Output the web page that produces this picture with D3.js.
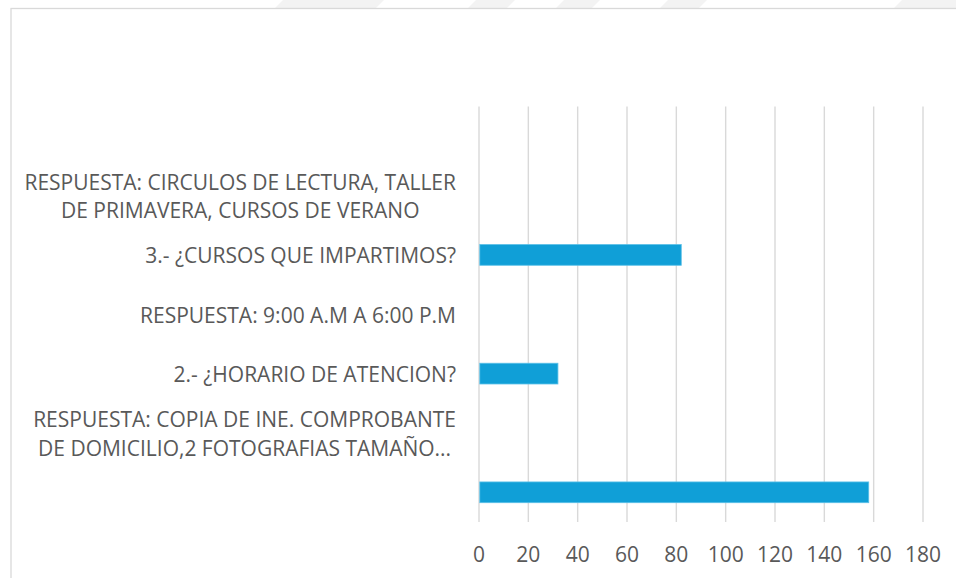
<!DOCTYPE html>
<html>
<head>
<meta charset="utf-8">
<script src="https://cdn.jsdelivr.net/npm/d3@7"></script>
<style>
  html, body { margin: 0; padding: 0; background: #fff; }
  svg { display: block; }
  text { font-family: "Open Sans", sans-serif; fill: #595959; }
</style>
</head>
<body>
<svg id="chart"></svg>
<script>
// categories top to bottom, "\n" marks a wrapped line
const categories = [
  "",
  "RESPUESTA: CIRCULOS DE LECTURA, TALLER\nDE PRIMAVERA, CURSOS DE VERANO",
  "3.- ¿CURSOS QUE IMPARTIMOS?",
  "RESPUESTA: 9:00 A.M A 6:00 P.M",
  "2.- ¿HORARIO DE ATENCION?",
  "RESPUESTA: COPIA DE INE. COMPROBANTE\nDE DOMICILIO,2 FOTOGRAFIAS TAMAÑO...",
  ""
];
const values = [0, 0, 82, 0, 32, 0, 158];
const xTicks = [0, 20, 40, 60, 80, 100, 120, 140, 160, 180];

const width = 956, height = 578;
const plotLeft = 479, plotRight = 923, plotTop = 106.5, plotBottom = 522;

const svg = d3.select("#chart")
  .attr("width", width)
  .attr("height", height);

// faint watermark stripes above the frame
const stripes = [[277, 378], [470, 509], [558, 594], [662, 701], [896, 990]];
svg.selectAll(".stripe")
  .data(stripes)
  .enter()
  .append("path")
  .attr("d", d => `M${d[0] + 6},0 L${d[1] + 6},0 L${d[1] - 2},8 L${d[0] - 2},8 Z`)
  .attr("fill", "#f3f3f3");

// chart frame
svg.append("rect")
  .attr("x", 11)
  .attr("y", 8.5)
  .attr("width", 960)
  .attr("height", 600)
  .attr("fill", "#fff")
  .attr("stroke", "#d9d9d9")
  .attr("stroke-width", 1.3);

const x = d3.scaleLinear().domain([0, 180]).range([plotLeft, plotRight]);
const y = d3.scaleBand()
  .domain(d3.range(categories.length))
  .range([plotTop, plotBottom])
  .paddingInner(0.65)
  .paddingOuter(0.325);

// vertical gridlines
svg.append("g")
  .selectAll("line")
  .data(xTicks)
  .enter()
  .append("line")
  .attr("x1", d => x(d))
  .attr("x2", d => x(d))
  .attr("y1", plotTop)
  .attr("y2", plotBottom)
  .attr("stroke", "#d9d9d9")
  .attr("stroke-width", 1.4);

// bars
svg.append("g")
  .selectAll("rect")
  .data(values)
  .enter()
  .append("rect")
  .attr("x", x(0) + 0.8)
  .attr("y", (d, i) => y(i))
  .attr("width", d => Math.max(0, x(d) - x(0) - 0.8))
  .attr("height", y.bandwidth())
  .attr("fill", d => d > 0 ? "#109fd7" : "none")
  .attr("stroke", d => d > 0 ? "#5cc0e8" : "none")
  .attr("stroke-width", 0.8);

// x tick labels
svg.append("g")
  .selectAll("text")
  .data(xTicks)
  .enter()
  .append("text")
  .attr("x", d => x(d))
  .attr("y", 561.5)
  .attr("text-anchor", "middle")
  .style("font-size", "21px")
  .text(d => d);

// category labels, wrapped lines centered in a right-aligned block
const labelRight = 456, lineH = 28.3;
const labels = svg.append("g");
categories.forEach((cat, i) => {
  if (!cat) return;
  const lines = cat.split("\n");
  const cy = y(i) + y.bandwidth() / 2;
  const g = labels.append("g");
  const texts = lines.map((ln, j) => g.append("text")
    .attr("y", cy + (j - (lines.length - 1) / 2) * lineH + 8.5)
    .style("font-size", "21px")
    .text(ln));
  const maxW = d3.max(texts, t => t.node().getComputedTextLength());
  texts.forEach(t => {
    t.attr("x", labelRight - maxW / 2).attr("text-anchor", "middle");
  });
});
</script>
</body>
</html>
